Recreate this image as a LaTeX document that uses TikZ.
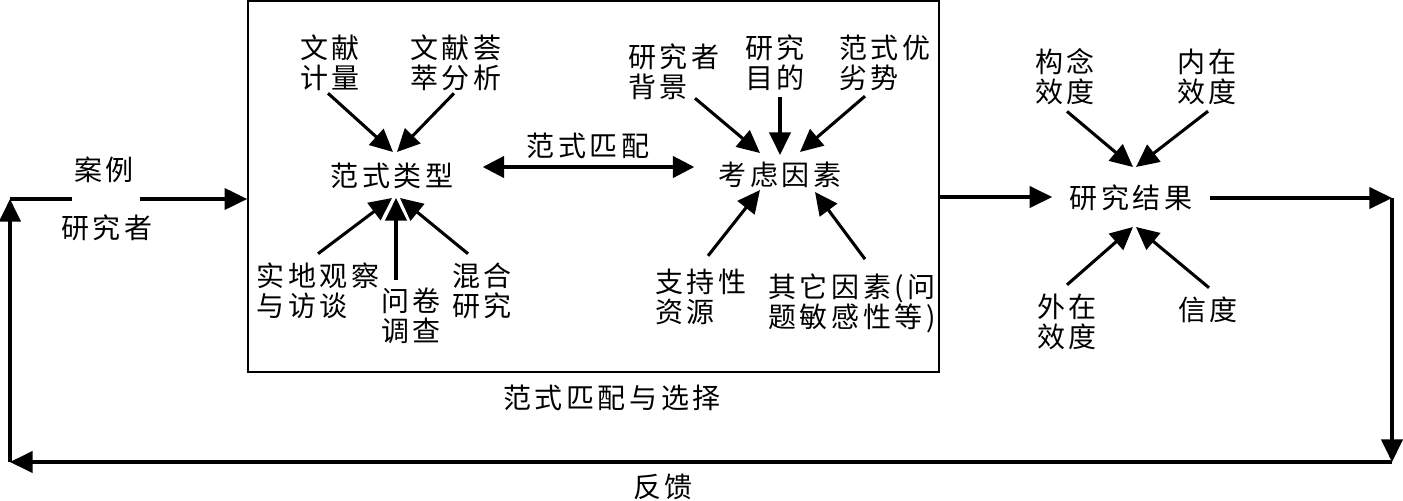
\documentclass[tikz,border=0pt]{standalone}
\usepackage{fontspec}
\newfontfamily\cjk[LetterSpace=13]{Noto Sans CJK SC}
\usetikzlibrary{arrows.meta,calc}
\tikzset{
  arr/.style={-{Triangle[length=17pt,width=16pt]}, line width=2.3pt},
  darr/.style={{Triangle[length=16pt,width=16pt]}-{Triangle[length=16pt,width=16pt]}, line width=2.3pt},
  plain/.style={line width=2.3pt},
  lbl/.style={font=\cjk\fontsize{21pt}{22.5pt}\selectfont, inner sep=0pt, align=left},
}
\begin{document}
\begin{tikzpicture}[x=0.75pt,y=-0.75pt]
\useasboundingbox (0,0) rectangle (1403,500);
% main box
\node (box) [draw, line width=1.5pt, inner sep=0pt, minimum width=518pt, minimum height=278pt] at (593.5,186.5) {};
% left part
\node[lbl] (anli) at (104,170) {案例};
\node[lbl] (yjz) at (107,228) {研究者};
\node (cr) [inner sep=0pt, minimum width=51pt, minimum height=1pt] at (106,199) {};
% paradigm types
\node[lbl] (fslx) at (392,176) {范式类型};
\node[lbl] (wxjl) at (330,63) {文献\\计量};
\node[lbl] (wxhc) at (456,63) {文献荟\\萃分析};
\node[lbl] (sdgc) at (318,291) {实地观察\\与访谈};
\node[lbl] (wjdc) at (411,316) {问卷\\调查};
\node[lbl] (hhyj) at (482,291) {混合\\研究};
% considerations
\node[lbl] (klys) at (780,175) {考虑因素};
\node[lbl] (yjzbj) at (674,72) {研究者\\背景};
\node[lbl] (yjmd) at (775,63) {研究\\目的};
\node[lbl] (fsyls) at (885,63) {范式优\\劣势};
\node[lbl] (zcx) at (701,297) {支持性\\资源};
\node[lbl] (qtys) at (852,303) {其它因素(问\\题敏感性等)};
\node[lbl] (fspp) at (588,146) {范式匹配};
\node[lbl] (fsppxz) at (612,398) {范式匹配与选择};
% results
\node[lbl] (res) at (1131,198) {研究结果};
\node[lbl] (gnxd) at (1065,77) {构念\\效度};
\node[lbl] (nzxd) at (1207,77) {内在\\效度};
\node[lbl] (wzxd) at (1067,322) {外在\\效度};
\node[lbl] (xd) at (1208,310) {信度};
\node[lbl] (fk) at (663,487) {反馈};
% corner coordinates
\coordinate (lt) at (10,199);
\coordinate (lb) at (10,462);
\coordinate (rb) at (1392,462);
\coordinate (rc) at (1392,198);
% arrows into 范式类型
\draw[arr] ($(wxjl.south)+(-2,2)$) -- ($(fslx.center)+(1,-24)$);
\draw[arr] ($(wxhc.south)+(-2,2)$) -- ($(fslx.center)+(5,-24)$);
\draw[arr] ($(sdgc.north)+(0,-9)$) -- ($(fslx.center)+(0,22)$);
\draw[arr] ($(wjdc.north)+(-15,-8)$) -- ($(fslx.center)+(4,22)$);
\draw[arr] ($(hhyj.north)+(-14,-9)$) -- ($(fslx.center)+(8,22)$);
% double arrow
\draw[darr] ($(fslx.east)+(29,-9)$) -- ($(klys.west)+(-24,-8)$);
% arrows into 考虑因素
\draw[arr] ($(yjzbj.south)+(21,-2)$) -- ($(klys.center)+(-20,-22)$);
\draw[arr] ($(yjmd.south)+(5,6)$) -- ($(klys.center)+(0,-20)$);
\draw[arr] ($(fsyls.south)+(-20,5)$) -- ($(klys.center)+(20,-23)$);
\draw[arr] ($(zcx.north)+(7,-13)$) -- ($(klys.center)+(-20,15)$);
\draw[arr] ($(qtys.north)+(13,-14)$) -- ($(klys.center)+(35,17)$);
% arrows into 研究结果
\draw[arr] ($(gnxd.south)+(2,6)$) -- ($(res.center)+(2,-31)$);
\draw[arr] ($(nzxd.south)+(1,6)$) -- ($(res.center)+(5,-31)$);
\draw[arr] ($(wzxd.north)+(0,-9)$) -- ($(res.center)+(2,29)$);
\draw[arr] ($(xd.north)+(1,-9)$) -- ($(res.center)+(5,29)$);
% flow
\draw[plain] (lt) -- (cr.west);
\draw[arr] (cr.east) -- (box.west |- cr.east);
\draw[arr] ($(box.east)+(0,10.5)$) -- ($(res.west)+(-17,-1)$);
\draw[arr] ($(res.east)+(17,0)$) -- (rc);
\draw[arr] (rc) -- (rb);
\draw[arr] (rb) -- (lb);
\draw[arr] (lb) -- (lt);
\end{tikzpicture}
\end{document}
